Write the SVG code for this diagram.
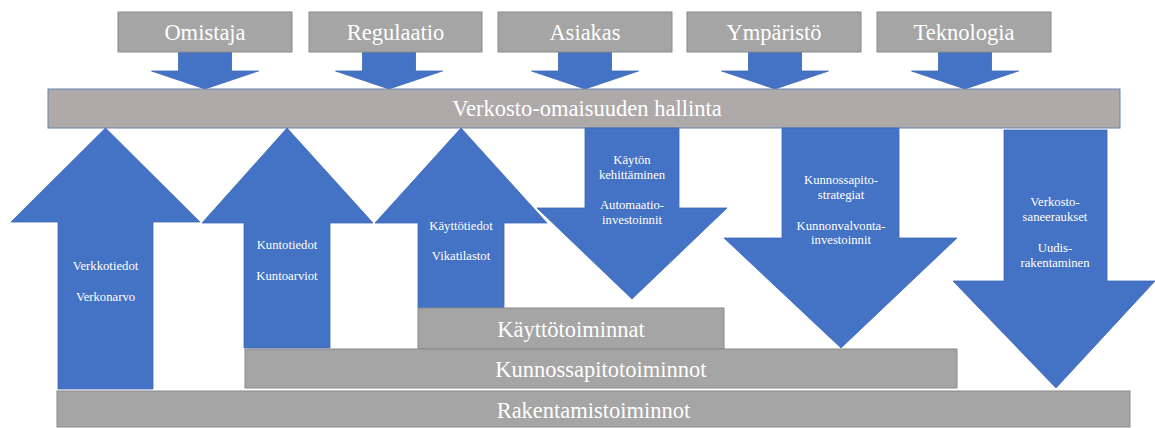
<svg xmlns="http://www.w3.org/2000/svg" width="1155" height="428" viewBox="0 0 1155 428">
  <defs>
    <style>
      .box { fill: #a5a5a5; stroke: #8a8a8a; stroke-width: 1; }
      .hub { fill: #aeaaaa; stroke: #6b82b0; stroke-width: 1; }
      .arrow { fill: #4472c4; stroke: #3d68b6; stroke-width: 0.8; }
      text { fill: #ffffff; text-anchor: middle; }
      .big { font-size: 22.5px; }
      .small { font-size: 12.7px; }
    </style>
  </defs>

  <g font-family="Liberation Serif, serif">
  <!-- Short arrows: each driver feeds the asset management bar -->
  <g id="connectors">
    <polygon class="arrow" points="178.5,52 231.5,52 231.5,71 258.5,71 205,89 151.5,71 178.5,71"/>
    <polygon class="arrow" points="362.5,52 415.5,52 415.5,71 442.5,71 389,89 335.5,71 362.5,71"/>
    <polygon class="arrow" points="558.5,52 611.5,52 611.5,71 638.5,71 585,89 531.5,71 558.5,71"/>
    <polygon class="arrow" points="748.5,52 801.5,52 801.5,71 828.5,71 775,89 721.5,71 748.5,71"/>
    <polygon class="arrow" points="938.5,52 991.5,52 991.5,71 1018.5,71 965,89 911.5,71 938.5,71"/>
  </g>

  <!-- Drivers -->
  <g id="omistaja">
    <rect class="box" x="118" y="12" width="174" height="40"/>
    <text class="big" x="205" y="40">Omistaja</text>
  </g>
  <g id="regulaatio">
    <rect class="box" x="309" y="12" width="173" height="40"/>
    <text class="big" x="395.5" y="40">Regulaatio</text>
  </g>
  <g id="asiakas">
    <rect class="box" x="498" y="12" width="174" height="40"/>
    <text class="big" x="585" y="40">Asiakas</text>
  </g>
  <g id="ymparisto">
    <rect class="box" x="687" y="12" width="174" height="40"/>
    <text class="big" x="774" y="40">Ympäristö</text>
  </g>
  <g id="teknologia">
    <rect class="box" x="877" y="12" width="174" height="40"/>
    <text class="big" x="964" y="40">Teknologia</text>
  </g>

  <!-- Central management layer -->
  <g id="verkosto-omaisuuden-hallinta">
    <rect class="hub" x="48" y="89" width="1072" height="39"/>
    <text class="big" x="587" y="116">Verkosto-omaisuuden hallinta</text>
  </g>

  <!-- Upward information flows -->
  <g id="verkkotiedot">
    <polygon class="arrow" points="105.5,128 200,222 153,222 153,389 58,389 58,222 11,222"/>
    <text class="small" x="105.5" y="270">Verkkotiedot</text>
    <text class="small" x="105.5" y="301">Verkonarvo</text>
  </g>
  <g id="kuntotiedot">
    <polygon class="arrow" points="287,128 373,223 330,223 330,348 244,348 244,223 202,223"/>
    <text class="small" x="287" y="249">Kuntotiedot</text>
    <text class="small" x="287" y="280">Kuntoarviot</text>
  </g>
  <g id="kayttotiedot">
    <polygon class="arrow" points="461,128 547,223 504,223 504,308 418,308 418,223 375,223"/>
    <text class="small" x="461" y="230">Käyttötiedot</text>
    <text class="small" x="461" y="260">Vikatilastot</text>
  </g>

  <!-- Downward decisions -->
  <g id="kayton-kehittaminen">
    <polygon class="arrow" points="585,128 679,128 679,208 727,208 632,299 537,208 585,208"/>
    <text class="small" x="632" y="164">Käytön</text>
    <text class="small" x="632" y="179">kehittäminen</text>
    <text class="small" x="632" y="209">Automaatio-</text>
    <text class="small" x="632" y="224">investoinnit</text>
  </g>
  <g id="kunnossapitostrategiat">
    <polygon class="arrow" points="782,128 899,128 899,238 957,238 841,348 724,238 782,238"/>
    <text class="small" x="841" y="184">Kunnossapito-</text>
    <text class="small" x="841" y="199">strategiat</text>
    <text class="small" x="841" y="230">Kunnonvalvonta-</text>
    <text class="small" x="841" y="244">investoinnit</text>
  </g>
  <g id="verkostosaneeraukset">
    <polygon class="arrow" points="1004,130 1107,130 1107,281 1155,281 1056,388 953,281 1004,281"/>
    <text class="small" x="1055" y="206">Verkosto-</text>
    <text class="small" x="1055" y="221">saneeraukset</text>
    <text class="small" x="1055" y="252">Uudis-</text>
    <text class="small" x="1055" y="267">rakentaminen</text>
  </g>

  <!-- Operational layers -->
  <g id="kayttotoiminnat">
    <rect class="box" x="418" y="308" width="306" height="41"/>
    <text class="big" x="571" y="337">Käyttötoiminnat</text>
  </g>
  <g id="kunnossapitotoiminnot">
    <rect class="box" x="245" y="349" width="712" height="39"/>
    <text class="big" x="601" y="377">Kunnossapitotoiminnot</text>
  </g>
  <g id="rakentamistoiminnot">
    <rect class="box" x="57" y="391" width="1073" height="36"/>
    <text class="big" x="593.5" y="418">Rakentamistoiminnot</text>
  </g>
  </g>
</svg>
